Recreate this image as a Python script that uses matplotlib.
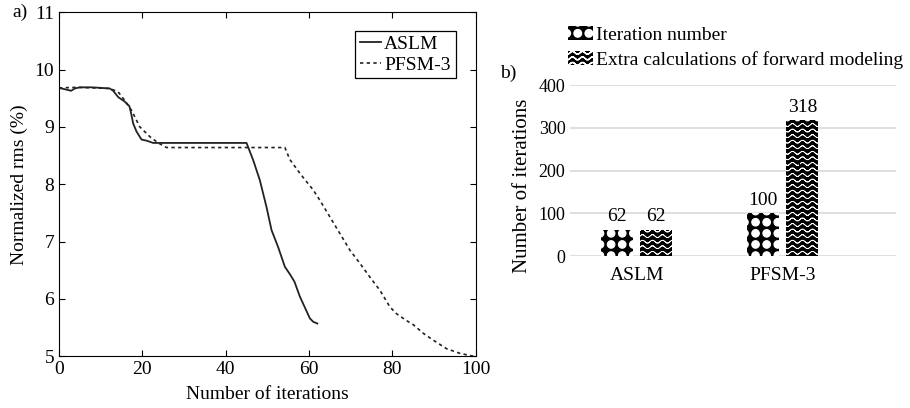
import numpy as np
import matplotlib
matplotlib.use("Agg")
import matplotlib.pyplot as plt
import matplotlib.hatch as mhatch
from matplotlib.path import Path

plt.rcParams['font.family'] = ['Liberation Serif', 'DejaVu Serif']

# ---- panel a) data (read from the figure) ----
aslm_it = [0, 1.8, 2.9, 3.8, 5, 8, 12.2, 13, 14.2, 15.8, 16.9, 17.3, 17.8, 18.6, 19.8, 21, 22.6,
           45, 46.6, 48.2, 49.8, 51, 52.6, 54.2, 55.5, 56.5, 57.8, 59, 60.2, 61, 62]
aslm_rms = [9.68, 9.65, 9.63, 9.67, 9.69, 9.69, 9.67, 9.63, 9.52, 9.44, 9.36, 9.24, 9.06, 8.92, 8.78,
            8.76, 8.72, 8.72, 8.42, 8.07, 7.6, 7.2, 6.9, 6.56, 6.42, 6.3, 6.04, 5.85, 5.66, 5.6, 5.57]
pfsm_it = [0, 4.2, 12.2, 14.2, 15.8, 17.4, 19.4, 21.8, 23.8, 25.8, 54.2, 55.4, 57.8, 61, 62.6, 65,
           67.4, 69.8, 72.2, 74.6, 77, 79.4, 81, 83.4, 85, 87.4, 89.8, 93, 96.2, 100]
pfsm_rms = [9.68, 9.69, 9.67, 9.61, 9.46, 9.29, 9.0, 8.83, 8.72, 8.64, 8.64, 8.43, 8.19, 7.9, 7.72,
            7.43, 7.14, 6.85, 6.62, 6.38, 6.15, 5.86, 5.74, 5.62, 5.55, 5.4, 5.28, 5.13, 5.05, 4.99]

# ---- panel b) data ----
methods = ['ASLM', 'PFSM-3']
iteration_number = [62, 100]
extra_forward = [62, 318]


# wavy line hatch ('~')
class WaveHatch(mhatch.HatchPatternBase):
    def __init__(self, hatch, density):
        self.num_lines = int(hatch.count('~') * density)
        self.n_pts = 61
        self.num_vertices = self.num_lines * self.n_pts * 2

    def set_vertices_and_codes(self, vertices, codes):
        t = np.linspace(0, 1, self.n_pts)
        n = self.n_pts
        for i in range(self.num_lines):
            y0 = (i + 0.5) / self.num_lines
            y = y0 + 0.28 / self.num_lines * np.sin(2 * np.pi * 10 * t)
            k = i * 2 * n
            # forward and back along the same curve so the fill has no area
            vertices[k:k + n, 0] = t
            vertices[k:k + n, 1] = y
            vertices[k + n:k + 2 * n, 0] = t[::-1]
            vertices[k + n:k + 2 * n, 1] = y[::-1]
            codes[k] = Path.MOVETO
            codes[k + 1:k + 2 * n] = Path.LINETO


# filled dots on a square grid ('@')
class DotGridHatch(mhatch.HatchPatternBase):
    def __init__(self, hatch, density):
        self.num_rows = int(hatch.count('@') * density * 1.5)
        self.circle = Path.unit_circle()
        self.num_vertices = (self.num_rows + 1) ** 2 * len(self.circle.vertices) if self.num_rows else 0

    def set_vertices_and_codes(self, vertices, codes):
        step = 1.0 / self.num_rows
        cv = self.circle.vertices * step * 0.34
        cc = self.circle.codes
        m = len(cv)
        k = 0
        for r in range(self.num_rows + 1):
            for c in range(self.num_rows + 1):
                vertices[k:k + m] = cv + [c * step, r * step]
                codes[k:k + m] = cc
                k += m


mhatch._hatch_types.append(WaveHatch)
mhatch._hatch_types.append(DotGridHatch)

fig = plt.figure(figsize=(9.1, 4.08), dpi=100)

# ---------------- panel a ----------------
ax1 = fig.add_axes([0.0648, 0.127, 0.458, 0.843])
ax1.plot(aslm_it, aslm_rms, color='#222222', lw=1.3, label='ASLM')
ax1.plot(pfsm_it, pfsm_rms, color='#222222', lw=1.2, ls=(0, (2, 2)), label='PFSM-3')
ax1.set_xlim(0, 100)
ax1.set_ylim(5, 11)
ax1.set_xticks([0, 20, 40, 60, 80, 100])
ax1.set_yticks([5, 6, 7, 8, 9, 10, 11])
ax1.tick_params(direction='in', top=True, right=True, labelsize=14, length=4)
ax1.set_xlabel('Number of iterations', fontsize=14, labelpad=6)
ax1.set_ylabel('Normalized rms (%)', fontsize=14, labelpad=5)
for s in ax1.spines.values():
    s.set_linewidth(0.8)
leg1 = ax1.legend(loc='upper right', fontsize=14, handlelength=1.1, handletextpad=0.15,
                  fancybox=False, framealpha=1, edgecolor='black', borderpad=0.25,
                  labelspacing=0.15, bbox_to_anchor=(0.975, 0.975))
leg1.get_frame().set_linewidth(0.9)
fig.text(0.014, 0.97, 'a)', fontsize=14, va='center', ha='left')

# ---------------- panel b ----------------
ax2 = fig.add_axes([0.626, 0.3725, 0.359, 0.419])
x = np.arange(len(methods))
w = 0.22
b1 = ax2.bar(x - 0.135, iteration_number, w, color='black', edgecolor='white', lw=0,
             hatch='@', label='Iteration number')
b2 = ax2.bar(x + 0.135, extra_forward, w, color='black', edgecolor='white', lw=0,
             hatch='~~~', label='Extra calculations of forward modeling')
for b in b1:
    if hasattr(b, 'set_hatch_linewidth'):
        b.set_hatch_linewidth(0.8)
for b in b2:
    if hasattr(b, 'set_hatch_linewidth'):
        b.set_hatch_linewidth(0.55)
ax2.bar_label(b1, padding=3, fontsize=14)
ax2.bar_label(b2, padding=3, fontsize=14)
ax2.set_xlim(-0.46, 1.78)
ax2.set_ylim(0, 400)
ax2.set_yticks([0, 100, 200, 300, 400])
ax2.set_xticks(x)
ax2.set_xticklabels(methods)
ax2.tick_params(axis='y', length=0, labelsize=13, pad=3)
ax2.tick_params(axis='x', length=0, labelsize=14, pad=8)
ax2.grid(axis='y', color='#d9d9d9', lw=1.2)
ax2.set_axisbelow(True)
for s in ax2.spines.values():
    s.set_visible(False)
ax2.set_ylabel('Number of iterations', fontsize=15)
ax2.yaxis.set_label_coords(-0.115, 0.41)
ax2.legend(loc='upper left', bbox_to_anchor=(-0.005, 1.345), fontsize=14, frameon=False,
           handlelength=1.3, handleheight=0.75, handletextpad=0.15, borderpad=0,
           borderaxespad=0, labelspacing=0.35)
fig.text(0.549, 0.82, 'b)', fontsize=14, va='center', ha='left')

fig.savefig('out.png', dpi=100)
